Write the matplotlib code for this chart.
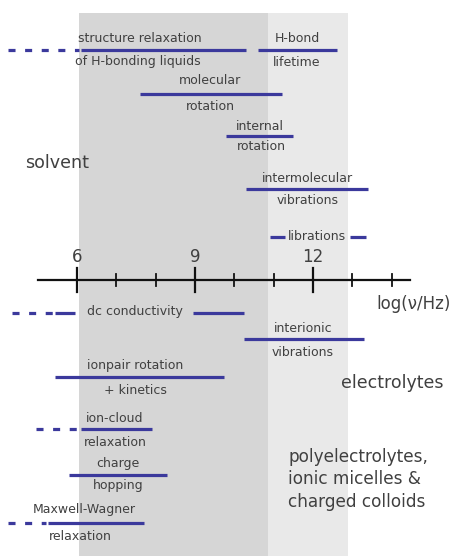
import matplotlib.pyplot as plt

# frequency ranges of the processes, in log(nu/Hz)
solvent_names = ['structure', 'hbond', 'molrot', 'introt', 'intervib']
solvent_lo = [6.1, 10.6, 7.6, 9.8, 10.3]
solvent_hi = [10.3, 12.6, 11.2, 11.5, 13.4]
solvent_dash_lo = [4.25, None, None, None, None]

electrolyte_names = ['dc', 'interionic', 'ionpair']
electrolyte_lo = [5.45, 10.25, 5.45]
electrolyte_hi = [10.25, 13.3, 9.75]
electrolyte_dash_lo = [4.35, None, None]

poly_names = ['ioncloud', 'hopping', 'maxwell']
poly_lo = [6.1, 5.8, 5.25]
poly_hi = [7.9, 8.3, 7.7]
poly_dash_lo = [4.95, None, 4.25]

librations_lo = [10.9, 12.95]
librations_hi = [11.3, 13.35]

major_ticks = [6, 9, 12]
minor_ticks = [7, 8, 10, 11, 13, 14]
dark_band = (6.05, 10.85)
light_band = (10.85, 12.9)

BLUE = '#3b399c'
TXT = '#404040'
FONT = 'DejaVu Sans'
FS = 9.0

fig = plt.figure(figsize=(4.54, 5.56), dpi=100)
ax = fig.add_axes([0, 0, 1, 1])
ax.set_xlim(6 - 77 / 39.33, 6 + 377 / 39.33)
ax.set_ylim(556, 0)
ax.axis('off')

# shaded frequency bands
ax.axvspan(*dark_band, ymin=0, ymax=1 - 13 / 556, color='#d6d6d6', lw=0, zorder=0)
ax.axvspan(*light_band, ymin=0, ymax=1 - 13 / 556, color='#e9e9e9', lw=0, zorder=0)


def bar(lo, hi, y, dash_lo=None):
    ax.plot([lo, hi], [y, y], color=BLUE, lw=2.3, solid_capstyle='butt', zorder=3)
    if dash_lo is not None:
        ax.plot([dash_lo, lo - 0.05], [y, y], color=BLUE, lw=2.3,
                dashes=(2.2, 3.0), dash_capstyle='butt', zorder=3)


def label(x, y, s, **kw):
    kw.setdefault('ha', 'center')
    kw.setdefault('fontsize', FS)
    ax.text(x, y, s, va='center', color=TXT, family=FONT, zorder=4, **kw)


def px(x):
    # pixel column -> log units (for label placement)
    return 6 + (x - 77) / 39.33


# solvent
rows = [50, 50, 94, 136, 189]
for lo, hi, d, y in zip(solvent_lo, solvent_hi, solvent_dash_lo, rows):
    bar(lo, hi, y, d)
label(px(140), 38, 'structure relaxation')
label(px(138), 61, 'of H-bonding liquids')
label(px(297), 38, 'H-bond')
label(px(297), 63, 'lifetime')
label(px(210), 81, 'molecular')
label(px(210), 106, 'rotation')
label(px(260), 126, 'internal')
label(px(261), 147, 'rotation')
label(px(307), 178, 'intermolecular')
label(px(308), 201, 'vibrations')
label(px(25), 163, 'solvent', ha='left', fontsize=12.6)

for lo, hi in zip(librations_lo, librations_hi):
    bar(lo, hi, 237)
label(px(317), 236, 'librations')

# axis
x0, x1 = px(38), px(410)
ax.plot([x0, x1], [280, 280], color='#111111', lw=1.6, zorder=5)
for t in major_ticks:
    ax.plot([t, t], [268, 292], color='#111111', lw=1.6, zorder=5)
    label(t, 257, str(t), fontsize=12)
for t in minor_ticks:
    ax.plot([t, t], [274, 286], color='#111111', lw=1.3, zorder=5)
label(px(451), 304, 'log(ν/Hz)', ha='right', fontsize=12)

# electrolytes
bar(electrolyte_lo[0], px(75), 313, electrolyte_dash_lo[0])
bar(px(193), electrolyte_hi[0], 313)
label(px(135), 312, 'dc conductivity')
bar(electrolyte_lo[1], electrolyte_hi[1], 339)
label(px(303), 328, 'interionic')
label(px(303), 352, 'vibrations')
bar(electrolyte_lo[2], electrolyte_hi[2], 377)
label(px(135), 365, 'ionpair rotation')
label(px(135), 391, '+ kinetics')
label(px(444), 383, 'electrolytes', ha='right', fontsize=12.5)

# polyelectrolytes
bar(poly_lo[0], poly_hi[0], 429, poly_dash_lo[0])
label(px(115), 418, 'ion-cloud')
label(px(115), 442, 'relaxation')
bar(poly_lo[1], poly_hi[1], 475)
label(px(118), 464, 'charge')
label(px(118), 486, 'hopping')
bar(poly_lo[2], poly_hi[2], 523, poly_dash_lo[2])
label(px(84), 510, 'Maxwell-Wagner')
label(px(80), 536, 'relaxation')
for y, s in zip([457, 479, 502], ['polyelectrolytes,', 'ionic micelles &', 'charged colloids']):
    label(px(288), y, s, ha='left', fontsize=12.2)

fig.savefig('out.png', dpi=100)
